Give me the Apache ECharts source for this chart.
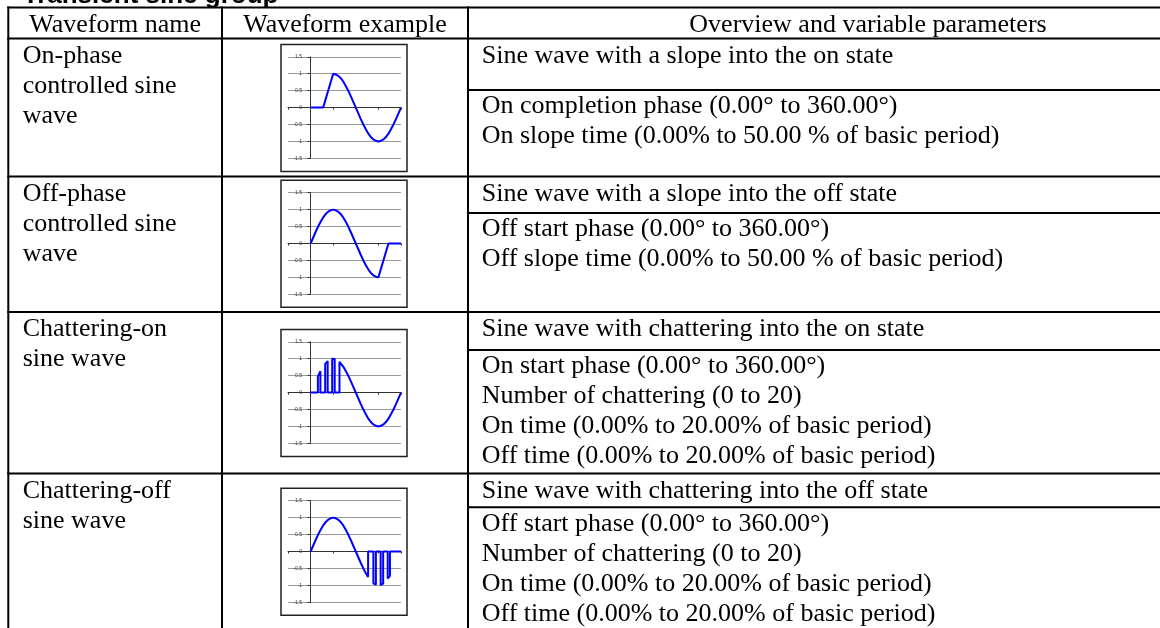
<!DOCTYPE html>
<html>
<head>
<meta charset="utf-8">
<script src="https://cdn.jsdelivr.net/npm/echarts@6/dist/echarts.min.js"></script>
<style>
html,body{margin:0;padding:0;background:#fff;}
#chart{width:1160px;height:628px;}
</style>
</head>
<body>
<div id="chart"></div>
<script>
// ---------- DATA ----------
const titleText = 'Transient sine group';
const headers = ['Waveform name', 'Waveform example', 'Overview and variable parameters'];
const waveNames = [
  ['On-phase', 'controlled sine', 'wave'],
  ['Off-phase', 'controlled sine', 'wave'],
  ['Chattering-on', 'sine wave'],
  ['Chattering-off', 'sine wave']
];
const overviews = [
  'Sine wave with a slope into the on state',
  'Sine wave with a slope into the off state',
  'Sine wave with chattering into the on state',
  'Sine wave with chattering into the off state'
];
const parameters = [
  ['On completion phase (0.00\u00b0 to 360.00\u00b0)', 'On slope time (0.00% to 50.00 % of basic period)'],
  ['Off start phase (0.00\u00b0 to 360.00\u00b0)', 'Off slope time (0.00% to 50.00 % of basic period)'],
  ['On start phase (0.00\u00b0 to 360.00\u00b0)', 'Number of chattering (0 to 20)', 'On time (0.00% to 20.00% of basic period)', 'Off time (0.00% to 20.00% of basic period)'],
  ['Off start phase (0.00\u00b0 to 360.00\u00b0)', 'Number of chattering (0 to 20)', 'On time (0.00% to 20.00% of basic period)', 'Off time (0.00% to 20.00% of basic period)']
];

// phase (degrees) and amplitude pairs
const onPhaseWave = [[0,0],[50,0],[90,1],[100,0.98],[110,0.94],[120,0.87],[130,0.77],[140,0.64],[150,0.5],[160,0.34],[170,0.17],[180,0],[190,-0.17],[200,-0.34],[210,-0.5],[220,-0.64],[230,-0.77],[240,-0.87],[250,-0.94],[260,-0.98],[270,-1],[280,-0.98],[290,-0.94],[300,-0.87],[310,-0.77],[320,-0.64],[330,-0.5],[340,-0.34],[350,-0.17],[360,0]];
const offPhaseWave = [[0,0],[10,0.17],[20,0.34],[30,0.5],[40,0.64],[50,0.77],[60,0.87],[70,0.94],[80,0.98],[90,1],[100,0.98],[110,0.94],[120,0.87],[130,0.77],[140,0.64],[150,0.5],[160,0.34],[170,0.17],[180,0],[190,-0.17],[200,-0.34],[210,-0.5],[220,-0.64],[230,-0.77],[240,-0.87],[250,-0.94],[260,-0.98],[270,-1],[310,0],[360,0]];
const chatterOnWave = [[0,0],[29,0],[29,0.48],[39,0.63],[39,0],[58,0],[58,0.85],[68,0.93],[68,0],[86,0],[86,1],[96,0.99],[96,0],[115,0],[115,0.91],[120,0.87],[130,0.77],[140,0.64],[150,0.5],[160,0.34],[170,0.17],[180,0],[190,-0.17],[200,-0.34],[210,-0.5],[220,-0.64],[230,-0.77],[240,-0.87],[250,-0.94],[260,-0.98],[270,-1],[280,-0.98],[290,-0.94],[300,-0.87],[310,-0.77],[320,-0.64],[330,-0.5],[340,-0.34],[350,-0.17],[360,0]];
const chatterOffWave = [[0,0],[10,0.17],[20,0.34],[30,0.5],[40,0.64],[50,0.77],[60,0.87],[70,0.94],[80,0.98],[90,1],[100,0.98],[110,0.94],[120,0.87],[130,0.77],[140,0.64],[150,0.5],[160,0.34],[170,0.17],[180,0],[190,-0.17],[200,-0.34],[210,-0.5],[220,-0.64],[229,-0.75],[229,0],[250,0],[250,-0.94],[260,-0.98],[260,0],[279,0],[279,-0.99],[289,-0.95],[289,0],[307,0],[307,-0.8],[316,-0.72],[316,0],[360,0]];
const waves = [onPhaseWave, offPhaseWave, chatterOnWave, chatterOffWave];

const phaseRange = [-90, 360, 90];     // x min, max, interval (degrees)
const ampRange = [-1.5, 1.5, 0.5];     // y min, max, interval

// ---------- LAYOUT ----------
const W = 1160, H = 628;
const colX = [8.3, 222, 468];
const rowY = [7.5, 38.5, 176.5, 312, 473.5];
const subY = [90, 213, 350, 507.3];
const gridTops = [56.8, 192.7, 341.8, 500.7];
const gridLeft = 288, gridW = 113, gridH = 101.6;
const serif = '26px "Liberation Serif", "Times New Roman", serif';
const LH = 30;

const g = [];
function hline(y, x1, x2){ g.push({type:'line', z:10, shape:{x1:x1, y1:y, x2:x2, y2:y}, style:{stroke:'#000', lineWidth:2}}); }
function vline(x, y1, y2){ g.push({type:'line', z:10, shape:{x1:x, y1:y1, x2:x, y2:y2}, style:{stroke:'#000', lineWidth:2}}); }
function txt(lines, x, top, align){
  g.push({type:'text', z:10, style:{text:lines.join('\n'), x:x, y:top, font:serif, fill:'#000',
    lineHeight:LH, align:align||'left', textAlign:align||'left', verticalAlign:'top', textVerticalAlign:'top'}});
}
rowY.forEach(y => hline(y, colX[0]-1, W));
subY.forEach(y => hline(y, colX[2], W));
colX.forEach(x => vline(x, rowY[0]-1, H));

// title (cut off at top)
g.push({type:'text', z:10, style:{text:titleText, x:22.7, y:-4, font:'bold 26px "Liberation Sans", Arial, sans-serif', fill:'#000',
  align:'left', textAlign:'left', verticalAlign:'middle', textVerticalAlign:'middle'}});

// header
txt([headers[0]], (colX[0]+colX[1])/2, rowY[0]+2.5, 'center');
txt([headers[1]], (colX[1]+colX[2])/2, rowY[0]+2.5, 'center');
txt([headers[2]], 868, rowY[0]+2.5, 'center');

for (let i = 0; i < 4; i++) {
  const top = rowY[i+1] + 2.2;
  txt(waveNames[i], colX[0]+14.4, top);
  txt([overviews[i]], colX[2]+13.7, top);
  txt(parameters[i], colX[2]+13.7, subY[i]+1.5);
  // example frame
  g.push({type:'rect', z:5, shape:{x:281, y:gridTops[i]-12.4, width:126, height:127}, style:{fill:'none', stroke:'#222', lineWidth:1.5}});
}

const grids = [], xAxes = [], yAxes = [], series = [];
for (let i = 0; i < 4; i++) {
  grids.push({left:gridLeft, top:gridTops[i], width:gridW, height:gridH});
  xAxes.push({type:'value', gridIndex:i, min:phaseRange[0], max:phaseRange[1], interval:phaseRange[2],
    axisLine:{show:true, onZero:true, lineStyle:{color:'#333', width:1}},
    axisTick:{show:true, length:2, lineStyle:{color:'#333'}},
    axisLabel:{show:false}, splitLine:{show:false}});
  yAxes.push({type:'value', gridIndex:i, min:ampRange[0], max:ampRange[1], interval:ampRange[2],
    axisLine:{show:true, onZero:true, lineStyle:{color:'#333', width:1}},
    axisTick:{show:true, length:3, lineStyle:{color:'#333'}},
    axisLabel:{show:true, fontSize:5, color:'#333', margin:-14, fontFamily:'Liberation Sans'},
    splitLine:{show:true, lineStyle:{color:'#9a9a9a', width:1}}});
  series.push({type:'line', xAxisIndex:i, yAxisIndex:i, data:waves[i], showSymbol:false, symbol:'none',
    lineStyle:{color:'#0000ff', width:2}, z:3});
}

const chart = echarts.init(document.getElementById('chart'), null, {renderer:'canvas'});
chart.setOption({
  animation:false,
  backgroundColor:'#fff',
  grid:grids, xAxis:xAxes, yAxis:yAxes, series:series,
  graphic:{elements:g}
});
</script>
</body>
</html>
